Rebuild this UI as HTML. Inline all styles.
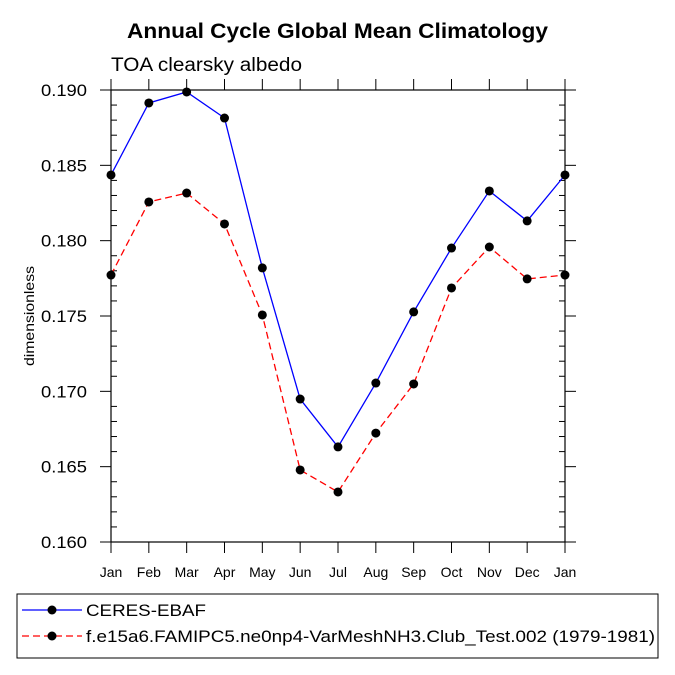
<!DOCTYPE html>
<html><head><meta charset="utf-8"><style>
body{margin:0;background:#fff;}
svg{display:block;font-family:"Liberation Sans",sans-serif;}
</style></head><body>
<svg id="chart" width="675" height="675" viewBox="0 0 675 675">
<text x="127" y="38" font-size="21" font-weight="bold" textLength="421" lengthAdjust="spacingAndGlyphs">Annual Cycle Global Mean Climatology</text>
<text x="111" y="71" font-size="19" textLength="191" lengthAdjust="spacingAndGlyphs">TOA clearsky albedo</text>
<text transform="translate(34,316) rotate(-90)" text-anchor="middle" font-size="14" textLength="100" lengthAdjust="spacingAndGlyphs">dimensionless</text>
<g id="axes"></g>
<g id="series"></g>
<rect x="17" y="594" width="641" height="64" fill="none" stroke="#000" stroke-width="1"/>
<g>
<line x1="22" y1="610" x2="82" y2="610" stroke="#0000ff" stroke-width="1.3"/>
<circle cx="52" cy="610" r="4.5" fill="#000"/>
<text x="86" y="616" font-size="17" textLength="120" lengthAdjust="spacingAndGlyphs">CERES-EBAF</text>
</g>
<g>
<line x1="22" y1="636" x2="82" y2="636" stroke="#ff0000" stroke-width="1.3" stroke-dasharray="7,4"/>
<circle cx="52" cy="636" r="4.5" fill="#000"/>
<text x="86" y="642" font-size="17" textLength="569" lengthAdjust="spacingAndGlyphs">f.e15a6.FAMIPC5.ne0np4-VarMeshNH3.Club_Test.002 (1979-1981)</text>
</g>
</svg>
<script>
const months = ["Jan","Feb","Mar","Apr","May","Jun","Jul","Aug","Sep","Oct","Nov","Dec","Jan"];
const ceres = [0.18436,0.18914,0.18987,0.18814,0.17819,0.16949,0.16631,0.17055,0.17527,0.17951,0.18330,0.18131,0.18436];
const model = [0.17772,0.18257,0.18316,0.18111,0.17507,0.16478,0.16332,0.16723,0.17049,0.17686,0.17958,0.17746,0.17772];
const yTicks = ["0.160","0.165","0.170","0.175","0.180","0.185","0.190"];
const L=111,R=565,T=90,B=542,ymin=0.160,ymax=0.190;
const NS="http://www.w3.org/2000/svg";
const xs=i=>L+(R-L)*i/(months.length-1);
const ys=v=>B-(B-T)*(v-ymin)/(ymax-ymin);
function mk(tag,attrs,parent){const e=document.createElementNS(NS,tag);for(const k in attrs)e.setAttribute(k,attrs[k]);parent.appendChild(e);return e;}
const ax=document.getElementById('axes');
const frame=mk('rect',{x:L,y:T,width:R-L,height:B-T,fill:'none',stroke:'#000','stroke-width':1.2},ax);


for(let k=0;k<=30;k++){
  const v=ymin+k*0.001, y=ys(v), major=k%5===0;
  if(major){
    mk('line',{x1:L-11,y1:y,x2:L,y2:y,stroke:'#000'},ax);
    mk('line',{x1:R,y1:y,x2:R+11,y2:y,stroke:'#000'},ax);
  } else {
    mk('line',{x1:L,y1:y,x2:L+6,y2:y,stroke:'#000'},ax);
    mk('line',{x1:R-6,y1:y,x2:R,y2:y,stroke:'#000'},ax);
  }
}
yTicks.forEach(t=>{
  const tx=mk('text',{x:L-24,y:ys(parseFloat(t))+6,'text-anchor':'end','font-size':17,textLength:46,lengthAdjust:'spacingAndGlyphs'},ax);
  tx.textContent=t;
  
  
});
months.forEach((m,i)=>{
  const x=xs(i);
  mk('line',{x1:x,y1:B,x2:x,y2:B+11,stroke:'#000'},ax);
  mk('line',{x1:x,y1:T-11,x2:x,y2:T,stroke:'#000'},ax);
  const tx=mk('text',{x:x,y:B+35,'text-anchor':'middle','font-size':14},ax);
  tx.textContent=m;
  
  
});
const sg=document.getElementById('series');
function draw(vals,color,dash,name){
  const g=mk('g',{},sg);
  
  
  const pts=vals.map((v,i)=>xs(i)+','+ys(v)).join(' ');
  const a={points:pts,fill:'none',stroke:color,'stroke-width':1.3};
  if(dash)a['stroke-dasharray']=dash;
  mk('polyline',a,g);
  vals.forEach((v,i)=>{
    const c=mk('circle',{cx:xs(i),cy:ys(v),r:4.5,fill:'#000'},g);
    
    
  });
}
draw(ceres,'#0000ff',null,'ceres-series');
draw(model,'#ff0000','7,4','model-series');
</script>
</body></html>
